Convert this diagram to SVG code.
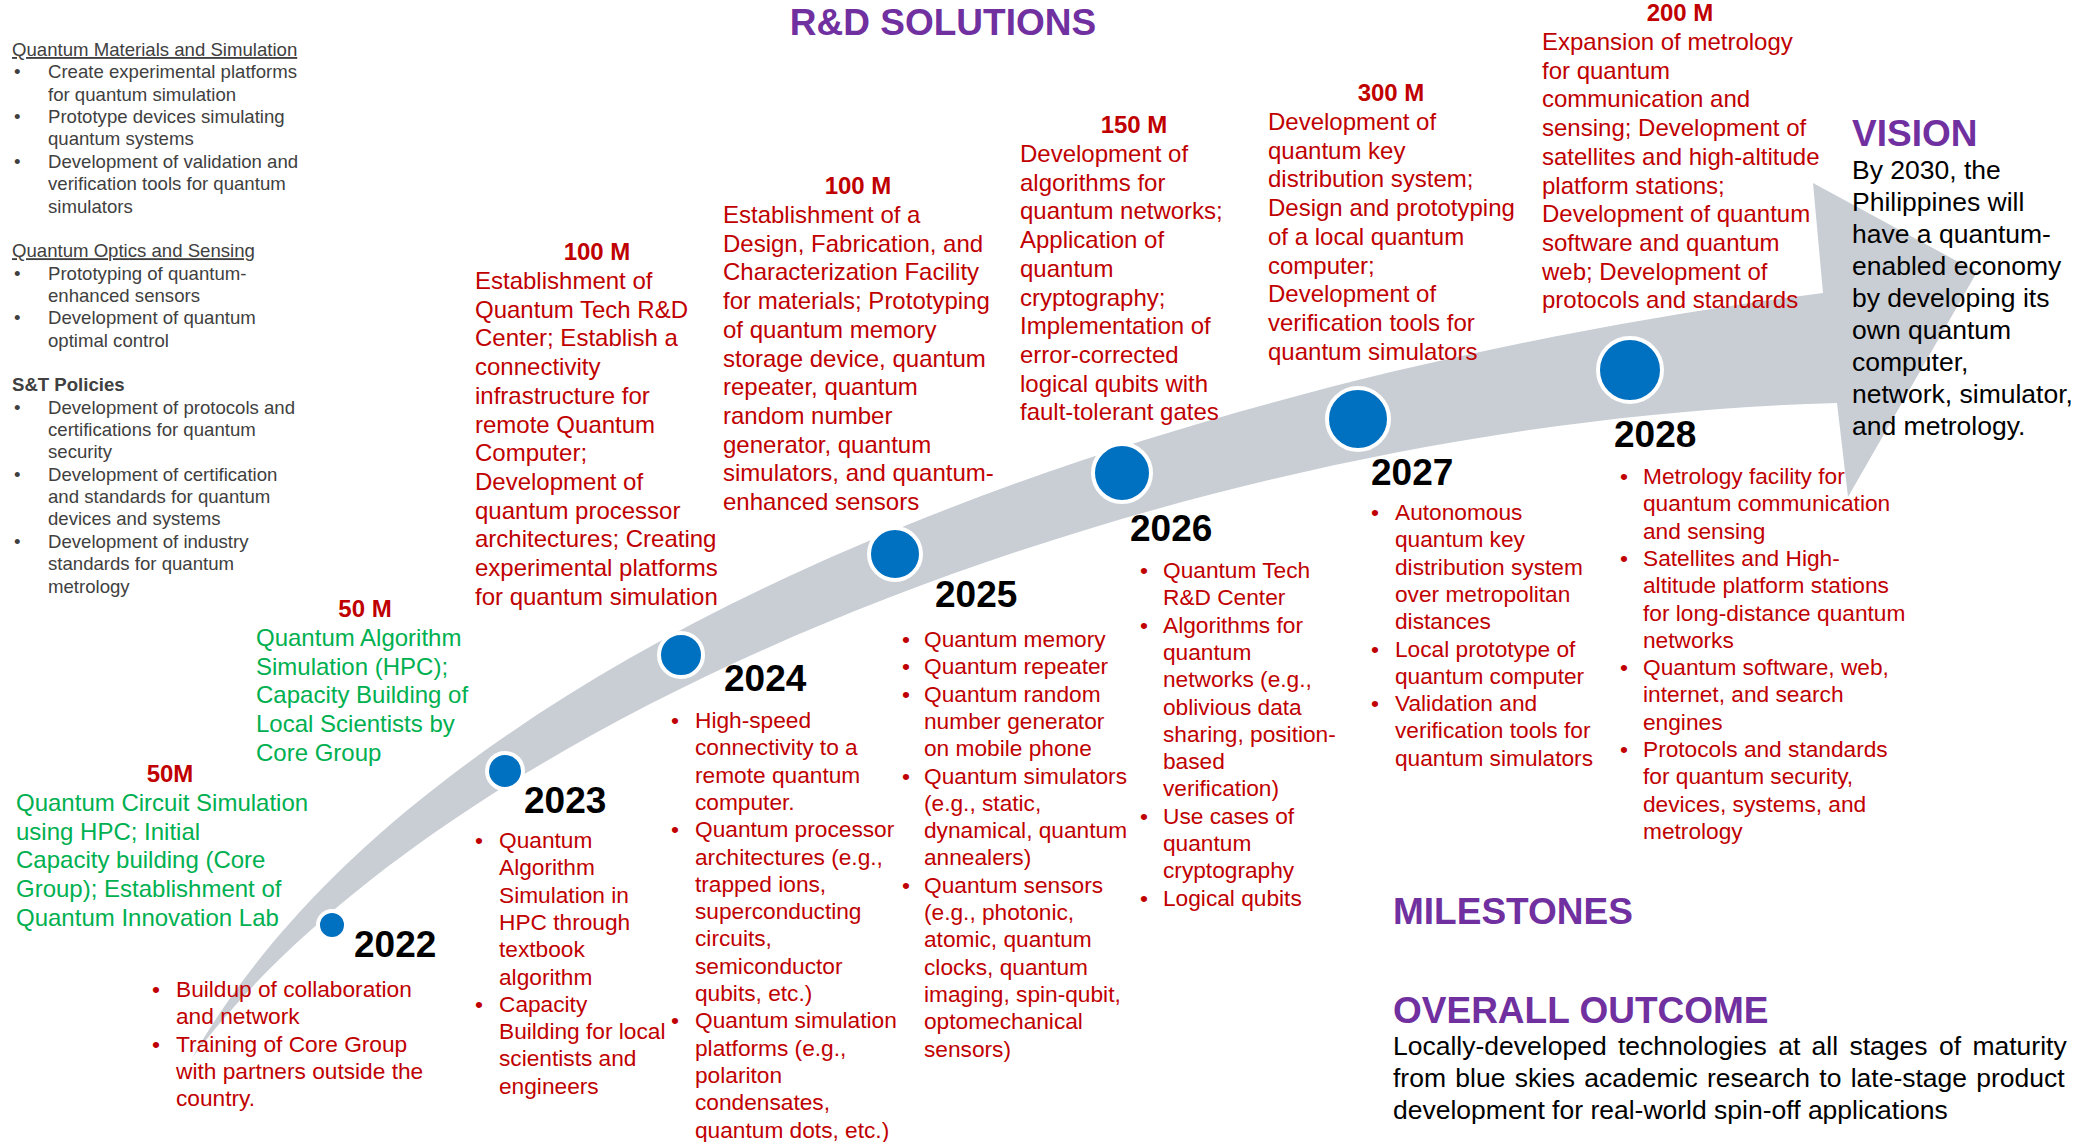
<svg xmlns="http://www.w3.org/2000/svg" width="2079" height="1142" viewBox="0 0 2079 1142">
  <style>
    text { font-family: "Liberation Sans", Arial, sans-serif; }
    .area { font-size: 18.6px; fill: #404040; }
    .head { font-size: 37px; font-weight: bold; fill: #7030A0; }
    .fund { font-size: 24px; font-weight: bold; fill: #C00000; text-anchor: middle; }
    .plan { font-size: 24px; }
    .red { fill: #C00000; }
    .green { fill: #00B050; }
    .year { font-size: 37px; font-weight: bold; fill: #000000; }
    .list { font-size: 22.7px; fill: #C00000; }
    .body { font-size: 26.5px; fill: #000000; }
    .dot { fill: #0070C0; stroke: #FFFFFF; stroke-width: 4; }
  </style>

  <rect width="2079" height="1142" fill="#FFFFFF"/>

  <!-- curved timeline arrow -->
  <g id="connectors">
    <path d="M 192,1058 C 430,640 1150,380 1823,293 L 1813,183 L 1977,272 L 1848,497 L 1837,403 C 1200,420 460,700 192,1058 Z" fill="#C9CED5"/>
  </g>

  <!-- research areas column -->
  <g id="research-areas" class="area">
    <text x="12" y="56" text-decoration="underline">Quantum Materials and Simulation</text>
    <text>
      <tspan x="14" y="78.4">•</tspan><tspan x="48">Create experimental platforms</tspan>
      <tspan x="48" y="100.7">for quantum simulation</tspan>
      <tspan x="14" y="123.1">•</tspan><tspan x="48">Prototype devices simulating</tspan>
      <tspan x="48" y="145.4">quantum systems</tspan>
      <tspan x="14" y="167.8">•</tspan><tspan x="48">Development of validation and</tspan>
      <tspan x="48" y="190.1">verification tools for quantum</tspan>
      <tspan x="48" y="212.5">simulators</tspan>
    </text>
    <text x="12" y="257.2" text-decoration="underline">Quantum Optics and Sensing</text>
    <text>
      <tspan x="14" y="279.6">•</tspan><tspan x="48">Prototyping of quantum-</tspan>
      <tspan x="48" y="301.9">enhanced sensors</tspan>
      <tspan x="14" y="324.3">•</tspan><tspan x="48">Development of quantum</tspan>
      <tspan x="48" y="346.6">optimal control</tspan>
    </text>
    <text x="12" y="391.3" font-weight="bold">S&amp;T Policies</text>
    <text>
      <tspan x="14" y="413.7">•</tspan><tspan x="48">Development of protocols and</tspan>
      <tspan x="48" y="436">certifications for quantum</tspan>
      <tspan x="48" y="458.4">security</tspan>
      <tspan x="14" y="480.7">•</tspan><tspan x="48">Development of certification</tspan>
      <tspan x="48" y="503.1">and standards for quantum</tspan>
      <tspan x="48" y="525.4">devices and systems</tspan>
      <tspan x="14" y="547.8">•</tspan><tspan x="48">Development of industry</tspan>
      <tspan x="48" y="570.1">standards for quantum</tspan>
      <tspan x="48" y="592.5">metrology</tspan>
    </text>
  </g>

  <text id="title" class="head" x="943" y="35" text-anchor="middle">R&amp;D SOLUTIONS</text>

  <!-- 2022 -->
  <g id="year-2022">
    <text class="fund" x="170" y="782">50M</text>
    <text class="plan green" x="16" y="811">
      <tspan x="16">Quantum Circuit Simulation</tspan>
      <tspan x="16" dy="28.7">using HPC; Initial</tspan>
      <tspan x="16" dy="28.7">Capacity building (Core</tspan>
      <tspan x="16" dy="28.7">Group); Establishment of</tspan>
      <tspan x="16" dy="28.7">Quantum Innovation Lab</tspan>
    </text>
    <circle class="dot" cx="332" cy="925" r="14"/>
    <text class="year" x="354" y="957">2022</text>
    <text class="list" y="997">
      <tspan x="152">•</tspan><tspan x="176">Buildup of collaboration</tspan>
      <tspan x="176" dy="27.3">and network</tspan>
      <tspan x="152" dy="27.3">•</tspan><tspan x="176">Training of Core Group</tspan>
      <tspan x="176" dy="27.3">with partners outside the</tspan>
      <tspan x="176" dy="27.3">country.</tspan>
    </text>
  </g>

  <!-- 2023 -->
  <g id="year-2023">
    <text class="fund" x="365" y="617">50 M</text>
    <text class="plan green" y="646">
      <tspan x="256">Quantum Algorithm</tspan>
      <tspan x="256" dy="28.7">Simulation (HPC);</tspan>
      <tspan x="256" dy="28.7">Capacity Building of</tspan>
      <tspan x="256" dy="28.7">Local Scientists by</tspan>
      <tspan x="256" dy="28.7">Core Group</tspan>
    </text>
    <circle class="dot" cx="505" cy="771" r="18"/>
    <text class="year" x="524" y="813">2023</text>
    <text class="list" y="848">
      <tspan x="475">•</tspan><tspan x="499">Quantum</tspan>
      <tspan x="499" dy="27.3">Algorithm</tspan>
      <tspan x="499" dy="27.3">Simulation in</tspan>
      <tspan x="499" dy="27.3">HPC through</tspan>
      <tspan x="499" dy="27.3">textbook</tspan>
      <tspan x="499" dy="27.3">algorithm</tspan>
      <tspan x="475" dy="27.3">•</tspan><tspan x="499">Capacity</tspan>
      <tspan x="499" dy="27.3">Building for local</tspan>
      <tspan x="499" dy="27.3">scientists and</tspan>
      <tspan x="499" dy="27.3">engineers</tspan>
    </text>
  </g>

  <!-- 2024 -->
  <g id="year-2024">
    <text class="fund" x="597" y="260">100 M</text>
    <text class="plan red" y="289">
      <tspan x="475">Establishment of</tspan>
      <tspan x="475" dy="28.7">Quantum Tech R&amp;D</tspan>
      <tspan x="475" dy="28.7">Center; Establish a</tspan>
      <tspan x="475" dy="28.7">connectivity</tspan>
      <tspan x="475" dy="28.7">infrastructure for</tspan>
      <tspan x="475" dy="28.7">remote Quantum</tspan>
      <tspan x="475" dy="28.7">Computer;</tspan>
      <tspan x="475" dy="28.7">Development of</tspan>
      <tspan x="475" dy="28.7">quantum processor</tspan>
      <tspan x="475" dy="28.7">architectures; Creating</tspan>
      <tspan x="475" dy="28.7">experimental platforms</tspan>
      <tspan x="475" dy="28.7">for quantum simulation</tspan>
    </text>
    <circle class="dot" cx="681" cy="655" r="22"/>
    <text class="year" x="724" y="691">2024</text>
    <text class="list" y="728">
      <tspan x="671">•</tspan><tspan x="695">High-speed</tspan>
      <tspan x="695" dy="27.3">connectivity to a</tspan>
      <tspan x="695" dy="27.3">remote quantum</tspan>
      <tspan x="695" dy="27.3">computer.</tspan>
      <tspan x="671" dy="27.3">•</tspan><tspan x="695">Quantum processor</tspan>
      <tspan x="695" dy="27.3">architectures (e.g.,</tspan>
      <tspan x="695" dy="27.3">trapped ions,</tspan>
      <tspan x="695" dy="27.3">superconducting</tspan>
      <tspan x="695" dy="27.3">circuits,</tspan>
      <tspan x="695" dy="27.3">semiconductor</tspan>
      <tspan x="695" dy="27.3">qubits, etc.)</tspan>
      <tspan x="671" dy="27.3">•</tspan><tspan x="695">Quantum simulation</tspan>
      <tspan x="695" dy="27.3">platforms (e.g.,</tspan>
      <tspan x="695" dy="27.3">polariton</tspan>
      <tspan x="695" dy="27.3">condensates,</tspan>
      <tspan x="695" dy="27.3">quantum dots, etc.)</tspan>
    </text>
  </g>

  <!-- 2025 -->
  <g id="year-2025">
    <text class="fund" x="858" y="194">100 M</text>
    <text class="plan red" y="223">
      <tspan x="723">Establishment of a</tspan>
      <tspan x="723" dy="28.7">Design, Fabrication, and</tspan>
      <tspan x="723" dy="28.7">Characterization Facility</tspan>
      <tspan x="723" dy="28.7">for materials; Prototyping</tspan>
      <tspan x="723" dy="28.7">of quantum memory</tspan>
      <tspan x="723" dy="28.7">storage device, quantum</tspan>
      <tspan x="723" dy="28.7">repeater, quantum</tspan>
      <tspan x="723" dy="28.7">random number</tspan>
      <tspan x="723" dy="28.7">generator, quantum</tspan>
      <tspan x="723" dy="28.7">simulators, and quantum-</tspan>
      <tspan x="723" dy="28.7">enhanced sensors</tspan>
    </text>
    <circle class="dot" cx="895" cy="554" r="26"/>
    <text class="year" x="935" y="607">2025</text>
    <text class="list" y="647">
      <tspan x="902">•</tspan><tspan x="924">Quantum memory</tspan>
      <tspan x="902" dy="27.3">•</tspan><tspan x="924">Quantum repeater</tspan>
      <tspan x="902" dy="27.3">•</tspan><tspan x="924">Quantum random</tspan>
      <tspan x="924" dy="27.3">number generator</tspan>
      <tspan x="924" dy="27.3">on mobile phone</tspan>
      <tspan x="902" dy="27.3">•</tspan><tspan x="924">Quantum simulators</tspan>
      <tspan x="924" dy="27.3">(e.g., static,</tspan>
      <tspan x="924" dy="27.3">dynamical, quantum</tspan>
      <tspan x="924" dy="27.3">annealers)</tspan>
      <tspan x="902" dy="27.3">•</tspan><tspan x="924">Quantum sensors</tspan>
      <tspan x="924" dy="27.3">(e.g., photonic,</tspan>
      <tspan x="924" dy="27.3">atomic, quantum</tspan>
      <tspan x="924" dy="27.3">clocks, quantum</tspan>
      <tspan x="924" dy="27.3">imaging, spin-qubit,</tspan>
      <tspan x="924" dy="27.3">optomechanical</tspan>
      <tspan x="924" dy="27.3">sensors)</tspan>
    </text>
  </g>

  <!-- 2026 -->
  <g id="year-2026">
    <text class="fund" x="1134" y="133">150 M</text>
    <text class="plan red" y="162">
      <tspan x="1020">Development of</tspan>
      <tspan x="1020" dy="28.7">algorithms for</tspan>
      <tspan x="1020" dy="28.7">quantum networks;</tspan>
      <tspan x="1020" dy="28.7">Application of</tspan>
      <tspan x="1020" dy="28.7">quantum</tspan>
      <tspan x="1020" dy="28.7">cryptography;</tspan>
      <tspan x="1020" dy="28.7">Implementation of</tspan>
      <tspan x="1020" dy="28.7">error-corrected</tspan>
      <tspan x="1020" dy="28.7">logical qubits with</tspan>
      <tspan x="1020" dy="28.7">fault-tolerant gates</tspan>
    </text>
    <circle class="dot" cx="1122" cy="473" r="29"/>
    <text class="year" x="1130" y="541">2026</text>
    <text class="list" y="578">
      <tspan x="1140">•</tspan><tspan x="1163">Quantum Tech</tspan>
      <tspan x="1163" dy="27.3">R&amp;D Center</tspan>
      <tspan x="1140" dy="27.3">•</tspan><tspan x="1163">Algorithms for</tspan>
      <tspan x="1163" dy="27.3">quantum</tspan>
      <tspan x="1163" dy="27.3">networks (e.g.,</tspan>
      <tspan x="1163" dy="27.3">oblivious data</tspan>
      <tspan x="1163" dy="27.3">sharing, position-</tspan>
      <tspan x="1163" dy="27.3">based</tspan>
      <tspan x="1163" dy="27.3">verification)</tspan>
      <tspan x="1140" dy="27.3">•</tspan><tspan x="1163">Use cases of</tspan>
      <tspan x="1163" dy="27.3">quantum</tspan>
      <tspan x="1163" dy="27.3">cryptography</tspan>
      <tspan x="1140" dy="27.3">•</tspan><tspan x="1163">Logical qubits</tspan>
    </text>
  </g>

  <!-- 2027 -->
  <g id="year-2027">
    <text class="fund" x="1391" y="101">300 M</text>
    <text class="plan red" y="130">
      <tspan x="1268">Development of</tspan>
      <tspan x="1268" dy="28.7">quantum key</tspan>
      <tspan x="1268" dy="28.7">distribution system;</tspan>
      <tspan x="1268" dy="28.7">Design and prototyping</tspan>
      <tspan x="1268" dy="28.7">of a local quantum</tspan>
      <tspan x="1268" dy="28.7">computer;</tspan>
      <tspan x="1268" dy="28.7">Development of</tspan>
      <tspan x="1268" dy="28.7">verification tools for</tspan>
      <tspan x="1268" dy="28.7">quantum simulators</tspan>
    </text>
    <circle class="dot" cx="1358" cy="419" r="31"/>
    <text class="year" x="1371" y="485">2027</text>
    <text class="list" y="520">
      <tspan x="1371">•</tspan><tspan x="1395">Autonomous</tspan>
      <tspan x="1395" dy="27.3">quantum key</tspan>
      <tspan x="1395" dy="27.3">distribution system</tspan>
      <tspan x="1395" dy="27.3">over metropolitan</tspan>
      <tspan x="1395" dy="27.3">distances</tspan>
      <tspan x="1371" dy="27.3">•</tspan><tspan x="1395">Local prototype of</tspan>
      <tspan x="1395" dy="27.3">quantum computer</tspan>
      <tspan x="1371" dy="27.3">•</tspan><tspan x="1395">Validation and</tspan>
      <tspan x="1395" dy="27.3">verification tools for</tspan>
      <tspan x="1395" dy="27.3">quantum simulators</tspan>
    </text>
  </g>

  <!-- 2028 -->
  <g id="year-2028">
    <text class="fund" x="1680" y="21">200 M</text>
    <text class="plan red" y="50">
      <tspan x="1542">Expansion of metrology</tspan>
      <tspan x="1542" dy="28.7">for quantum</tspan>
      <tspan x="1542" dy="28.7">communication and</tspan>
      <tspan x="1542" dy="28.7">sensing; Development of</tspan>
      <tspan x="1542" dy="28.7">satellites and high-altitude</tspan>
      <tspan x="1542" dy="28.7">platform stations;</tspan>
      <tspan x="1542" dy="28.7">Development of quantum</tspan>
      <tspan x="1542" dy="28.7">software and quantum</tspan>
      <tspan x="1542" dy="28.7">web; Development of</tspan>
      <tspan x="1542" dy="28.7">protocols and standards</tspan>
    </text>
    <circle class="dot" cx="1630" cy="370" r="32"/>
    <text class="year" x="1614" y="447">2028</text>
    <text class="list" y="484">
      <tspan x="1620">•</tspan><tspan x="1643">Metrology facility for</tspan>
      <tspan x="1643" dy="27.3">quantum communication</tspan>
      <tspan x="1643" dy="27.3">and sensing</tspan>
      <tspan x="1620" dy="27.3">•</tspan><tspan x="1643">Satellites and High-</tspan>
      <tspan x="1643" dy="27.3">altitude platform stations</tspan>
      <tspan x="1643" dy="27.3">for long-distance quantum</tspan>
      <tspan x="1643" dy="27.3">networks</tspan>
      <tspan x="1620" dy="27.3">•</tspan><tspan x="1643">Quantum software, web,</tspan>
      <tspan x="1643" dy="27.3">internet, and search</tspan>
      <tspan x="1643" dy="27.3">engines</tspan>
      <tspan x="1620" dy="27.3">•</tspan><tspan x="1643">Protocols and standards</tspan>
      <tspan x="1643" dy="27.3">for quantum security,</tspan>
      <tspan x="1643" dy="27.3">devices, systems, and</tspan>
      <tspan x="1643" dy="27.3">metrology</tspan>
    </text>
  </g>

  <!-- vision -->
  <g id="vision">
    <text class="head" x="1852" y="146">VISION</text>
    <text class="body" y="179">
      <tspan x="1852">By 2030, the</tspan>
      <tspan x="1852" dy="32">Philippines will</tspan>
      <tspan x="1852" dy="32">have a quantum-</tspan>
      <tspan x="1852" dy="32">enabled economy</tspan>
      <tspan x="1852" dy="32">by developing its</tspan>
      <tspan x="1852" dy="32">own quantum</tspan>
      <tspan x="1852" dy="32">computer,</tspan>
      <tspan x="1852" dy="32">network, simulator,</tspan>
      <tspan x="1852" dy="32">and metrology.</tspan>
    </text>
  </g>

  <!-- milestones and outcome -->
  <g id="milestones">
    <text class="head" x="1393" y="924">MILESTONES</text>
  </g>
  <g id="outcome">
    <text class="head" x="1393" y="1023">OVERALL OUTCOME</text>
    <text class="body" x="1393" y="1055" word-spacing="4">Locally-developed technologies at all stages of maturity</text>
    <text class="body" x="1393" y="1087" word-spacing="1.9">from blue skies academic research to late-stage product</text>
    <text class="body" x="1393" y="1119">development for real-world spin-off applications</text>
  </g>
</svg>
